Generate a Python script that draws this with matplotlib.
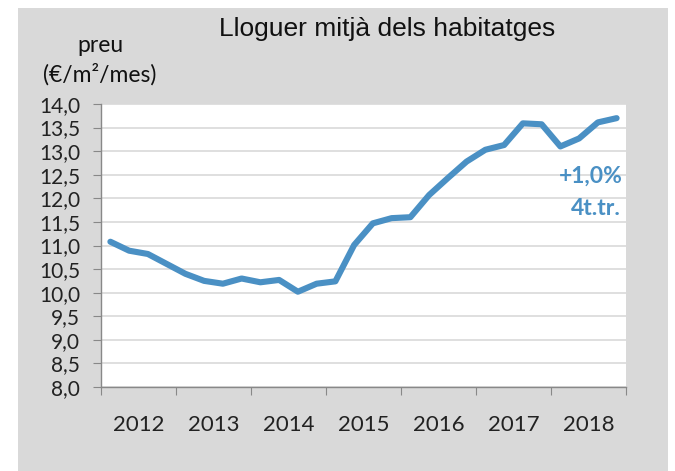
import matplotlib
matplotlib.use("Agg")
import matplotlib.pyplot as plt
from matplotlib.patches import Rectangle

years = ['2012', '2013', '2014', '2015', '2016', '2017', '2018']
# preu mitjà trimestral (€/m²/mes), 2012 T1 - 2018 T4
preu = [11.08, 10.89, 10.82, 10.61, 10.40, 10.25, 10.19, 10.30,
        10.22, 10.27, 10.02, 10.19, 10.24, 11.01, 11.47, 11.58,
        11.60, 12.07, 12.43, 12.78, 13.03, 13.13, 13.59, 13.57,
        13.10, 13.27, 13.61, 13.70]
yticks = [8.0 + 0.5 * k for k in range(13)]

W, H = 675, 471
fig = plt.figure(figsize=(W / 100, H / 100), dpi=100)
fig.patch.set_facecolor('white')
bg = Rectangle((18 / W, 0), 650 / W, 463 / H, transform=fig.transFigure,
               facecolor='#d9d9d9', edgecolor='none', zorder=-10)
fig.add_artist(bg)

ax = fig.add_axes([101 / W, 1 - 387 / H, 525 / W, 283 / H])
ax.set_facecolor('white')
x = list(range(len(preu)))
ax.plot(x, preu, color='#4a90c4', lw=4.4, solid_capstyle='round', solid_joinstyle='round', zorder=3)

ax.set_xlim(-0.5, len(preu) - 0.5)
ax.set_ylim(8, 14)
ax.set_yticks(yticks)
ax.set_yticklabels([f"{v:.1f}".replace('.', ',') for v in yticks], fontsize=15, family='Lato', color='#222222')
ax.grid(axis='y', color='#d9d9d9', lw=1.2)
ax.set_axisbelow(True)

ax.set_xticks([-0.5 + 4 * k for k in range(len(years) + 1)])
ax.set_xticklabels([])
ax.set_xticks([1.5 + 4 * k for k in range(len(years))], minor=True)
ax.set_xticklabels(years, minor=True, fontsize=16, family='Lato', color='#222222')
ax.tick_params(axis='x', which='major', length=6, color='#888888', direction='out')
ax.tick_params(axis='x', which='minor', length=0, pad=20)
ax.tick_params(axis='y', length=6, color='#888888', pad=9)

for s in ['top', 'right']:
    ax.spines[s].set_visible(False)
for s in ['left', 'bottom']:
    ax.spines[s].set_color('#888888')
    ax.spines[s].set_linewidth(1)

fig.text(387 / W, 1 - 29 / H, 'Lloguer mitjà dels habitatges', ha='center', va='center',
         fontsize=19, family='Liberation Sans', color='#111111')
fig.text(100 / W, 1 - 46 / H, 'preu', ha='center', va='center', fontsize=16.5, family='Lato', color='#111111')
fig.text(100 / W, 1 - 74 / H, '(€/m²/mes)', ha='center', va='center', fontsize=16.5, family='Lato', color='#111111')

ax.text(0.994, 0.745, '+1,0%', transform=ax.transAxes, ha='right', va='center',
        fontsize=16.5, fontweight='bold', family='Lato', color='#4a90c4')
ax.text(0.99, 0.629, '4t.tr.', transform=ax.transAxes, ha='right', va='center',
        fontsize=16.5, fontweight='bold', family='Lato', color='#4a90c4')

fig.savefig('out.png', dpi=100)
